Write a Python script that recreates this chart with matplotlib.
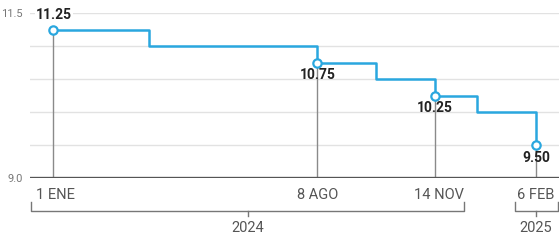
import matplotlib
matplotlib.use("Agg")
import matplotlib.pyplot as plt
import matplotlib.dates as mdates
from matplotlib.transforms import blended_transform_factory
from datetime import datetime

# tasa objetivo, fechas de cambio
change_dates = ["2024-01-01", "2024-03-21", "2024-08-08", "2024-09-26",
                "2024-11-14", "2024-12-19", "2025-02-06"]
rates = [11.25, 11.00, 10.75, 10.50, 10.25, 10.00, 9.50]
highlight_idx = [0, 2, 4, 6]
date_labels = ["1 ENE", "8 AGO", "14 NOV", "6 FEB"]
value_labels = ["11.25", "10.75", "10.25", "9.50"]
years = ["2024", "2025"]

BLUE = "#2aa7df"
fam = ["Roboto", "DejaVu Sans"]

x = [mdates.date2num(datetime.strptime(d, "%Y-%m-%d")) for d in change_dates]
d = lambda s: mdates.date2num(datetime.strptime(s, "%Y-%m-%d"))

fig = plt.figure(figsize=(5.59, 2.40), dpi=100)
ax = fig.add_axes([30 / 559, 62 / 240, 529 / 559, 165 / 240])
ax.set_xlim(d("2023-12-13"), d("2025-02-25"))
ax.set_ylim(9.0, 11.5)

for v in [9.5, 10.0, 10.5, 11.0, 11.5]:
    ax.axhline(v, color="#e2e2e2", lw=1.0, zorder=0)
ax.axhline(9.0, color="#555555", lw=2.4, zorder=3)

for i in highlight_idx:
    ax.plot([x[i], x[i]], [9.0, rates[i]], color="#8a8a8a", lw=1.0, zorder=1)

ax.plot(x, rates, drawstyle="steps-post", color=BLUE, lw=1.8, zorder=2)
ax.plot([x[i] for i in highlight_idx], [rates[i] for i in highlight_idx],
        "o", ms=6, mfc="white", mec=BLUE, mew=1.6, zorder=4, clip_on=False)

# etiquetas de valor
offsets = [(1, 11.47, "center", "center"), (0, 10.67, "center", "top"),
           (0, 10.17, "center", "top"), (0, 9.41, "center", "top")]
for k, i in enumerate(highlight_idx):
    dx, yy, ha, va = offsets[k]
    t = ax.text(x[i] + dx, yy, value_labels[k], ha=ha, va=va, fontsize=10,
                fontweight="bold", color="#222222", family=fam, clip_on=False,
                zorder=5)
    if k == 0:
        t.set_bbox(dict(boxstyle="square,pad=0.1", fc="white", ec="none"))

ax.set_yticks([9.0, 11.5])
ax.set_yticklabels(["9.0", "11.5"], family=fam, fontsize=8, color="#777777")
ax.tick_params(axis="y", length=0, pad=5)
ax.set_xticks([])
for s in ax.spines.values():
    s.set_visible(False)

tr = blended_transform_factory(ax.transData, fig.transFigure)
fy = lambda py: (240 - py) / 240

# fechas
date_ha = ["left", "center", "right", "center"]
date_x = [x[0] - 14, x[2], x[4] + 24, x[6]]
for lbl, xx, ha in zip(date_labels, date_x, date_ha):
    ax.text(xx, fy(188), lbl, transform=tr, ha=ha, va="top", fontsize=10.5,
            color="#555555", family=fam)

# llaves de año
brackets = [(d("2023-12-14"), d("2024-12-08")), (d("2025-01-19"), d("2025-02-24"))]
for (x0, x1), yr in zip(brackets, years):
    xs = [x0, x0, x1, x1]
    ys = [fy(202), fy(211), fy(211), fy(202)]
    ax.plot(xs, ys, transform=tr, color="#777777", lw=1.0, clip_on=False,
            solid_joinstyle="round")
    xm = (x0 + x1) / 2
    ax.plot([xm, xm], [fy(211), fy(216)], transform=tr, color="#777777",
            lw=1.0, clip_on=False)
    ax.text(xm, fy(221), yr, transform=tr, ha="center", va="top", fontsize=10.5,
            color="#555555", family=fam)

fig.savefig("out.png", dpi=100)
